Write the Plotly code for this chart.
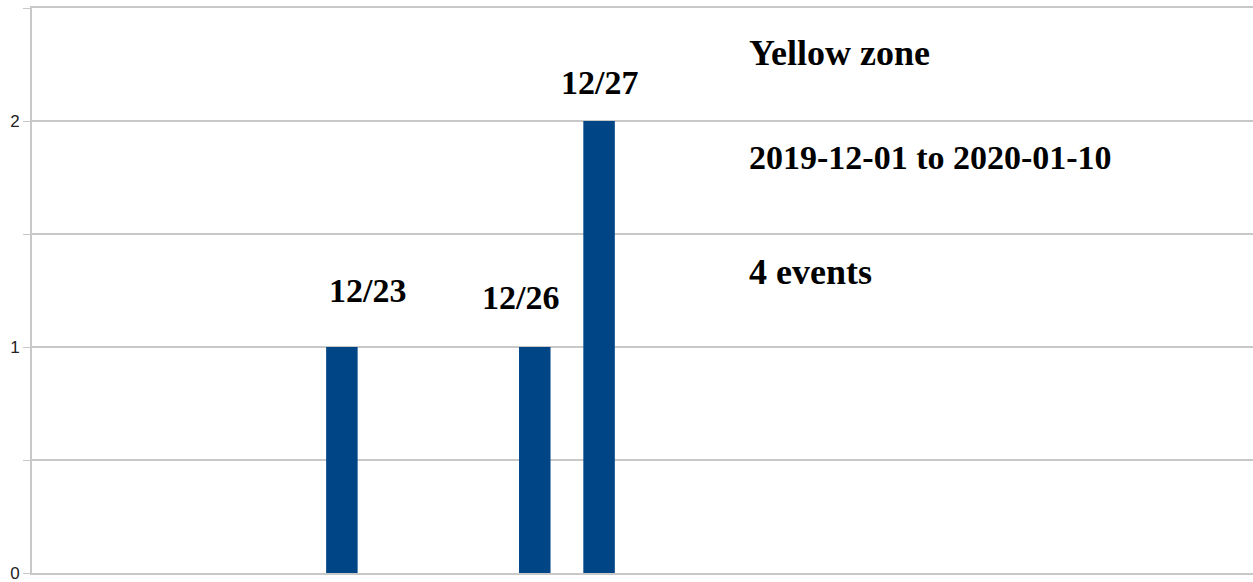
import plotly.graph_objects as go

# ==========================================
# DATA
# ==========================================

event_dates = ["2019-12-23", "2019-12-26", "2019-12-27"]
event_counts = [1, 1, 2]
bar_labels = ["12/23", "12/26", "12/27"]

y_tick_values = [0, 0.5, 1, 1.5, 2, 2.5]
y_tick_labels = ["0", "", "1", "", "2", ""]

info_lines = ["Yellow zone", "2019-12-01 to 2020-01-10", "4 events"]
info_levels = [2.30, 1.84, 1.33]

# ==========================================
# STYLE
# ==========================================

BAR_COLOR = "#004586"
GRID_COLOR = "#c8c8c8"
LABEL_FONT = dict(family="Liberation Serif", size=34, color="black")
info_sizes = [36, 34, 36]

# label offsets (px) relative to the top of each bar
label_offsets = [(26, 57), (-14, 50), (0, 39)]

fig = go.Figure(go.Bar(
    x=event_dates,
    y=event_counts,
    width=0.49 * 86400000,
    marker=dict(color=BAR_COLOR, line=dict(width=0)),
    hoverinfo="skip",
))

for d, v, lab, (dx, dy) in zip(event_dates, event_counts, bar_labels, label_offsets):
    fig.add_annotation(
        x=d, y=v, text=f"<b>{lab}</b>", showarrow=False,
        xshift=dx, yshift=dy, font=LABEL_FONT,
        xanchor="center", yanchor="middle",
    )

for txt, lvl, sz in zip(info_lines, info_levels, info_sizes):
    fig.add_annotation(
        xref="paper", yref="y", x=0.588, y=lvl, xshift=-3,
        text=f"<b>{txt}</b>", showarrow=False,
        font=dict(family="Liberation Serif", size=sz, color="black"),
        xanchor="left", yanchor="middle",
    )

fig.update_layout(
    width=1253,
    height=582,
    margin=dict(l=32, r=0, t=8, b=9),
    paper_bgcolor="white",
    plot_bgcolor="white",
    showlegend=False,
    xaxis=dict(
        type="date",
        range=["2019-12-18 04:20", "2020-01-06 04:05"],
        showgrid=False,
        showticklabels=False,
        ticks="",
        zeroline=False,
        showline=True,
        mirror=True,
        linecolor=GRID_COLOR,
        linewidth=1.5,
    ),
    yaxis=dict(
        range=[0, 2.5],
        tickvals=y_tick_values,
        ticktext=y_tick_labels,
        ticks="outside",
        ticklen=7,
        tickcolor=GRID_COLOR,
        tickfont=dict(family="Liberation Sans", size=17, color="#222222"),
        ticklabeloverflow="allow",
        showgrid=True,
        gridcolor=GRID_COLOR,
        gridwidth=1.5,
        showline=True,
        linecolor=GRID_COLOR,
        linewidth=2,
        zeroline=False,
    ),
)

# the page body has a default 8px margin; drop it so the figure sits at the corner
fig.write_html(
    "out.html",
    config={"displayModeBar": False},
    post_script="document.body.style.margin='0';",
)
